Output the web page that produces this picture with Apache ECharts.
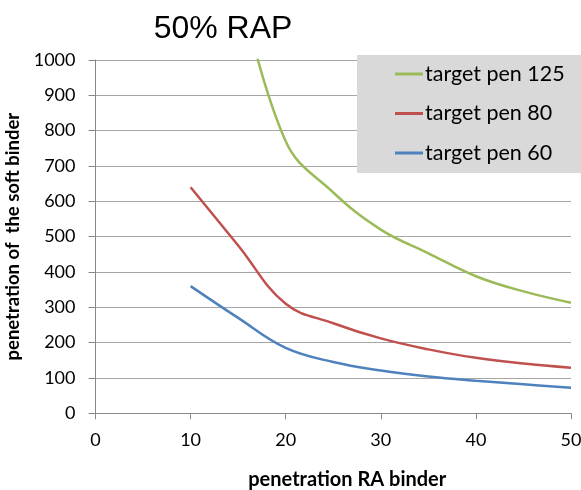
<!DOCTYPE html>
<html>
<head>
<meta charset="utf-8">
<script src="https://cdn.jsdelivr.net/npm/echarts@6/dist/echarts.min.js"></script>
<style>
  html, body { margin: 0; padding: 0; background: #fff; }
  #chart { width: 581px; height: 490px; }
</style>
</head>
<body>
<div id="chart"></div>
<script>
// Penetration of the RA binder (x) and required soft-binder penetration (y)
var penRA   = [10, 15, 20, 25, 30, 35, 40, 45, 50];
var pen125  = [null, 1230, 770, 625, 520, 453, 388, 345, 313];
var pen80   = [640, 475, 310, 255, 212, 181, 157, 141, 129];
var pen60   = [360, 270, 185, 145, 121, 104, 92, 82, 72];
var seriesNames = ['target pen 125', 'target pen 80', 'target pen 60'];
var seriesColors = ['#9bbb59', '#c0504d', '#4f81bd'];

function pairs(xs, ys) {
  var out = [];
  for (var i = 0; i < xs.length; i++) {
    if (ys[i] !== null) out.push([xs[i], ys[i]]);
  }
  return out;
}

var font = 'Lato';
var chart = echarts.init(document.getElementById('chart'), null, { renderer: 'canvas' });

var seriesData = [pen125, pen80, pen60];
var series = seriesData.map(function (ys, i) {
  return {
    name: seriesNames[i],
    type: 'line',
    data: pairs(penRA, ys),
    smooth: 0.4,
    symbol: 'none',
    showSymbol: false,
    clip: true,
    lineStyle: { color: seriesColors[i], width: 2.5 },
    itemStyle: { color: seriesColors[i] },
    z: 3 - i
  };
});

chart.setOption({
  animation: false,
  backgroundColor: '#ffffff',
  title: {
    text: '50% RAP',
    left: 218,
    textAlign: 'center',
    top: 8,
    textStyle: { fontFamily: 'Liberation Sans', fontSize: 32, fontWeight: 'normal', color: '#000' }
  },
  legend: {
    orient: 'vertical',
    left: 357,
    top: 55,
    padding: [8, 40, 9, 38],
    itemWidth: 28,
    itemHeight: 14,
    itemGap: 17.5,
    icon: 'path://M0,0 L28,0 L28,3 L0,3 Z',
    backgroundColor: '#d9d9d9',
    data: seriesNames,
    textStyle: { fontFamily: font, fontSize: 21.5, color: '#000', padding: [0, 0, 0, -3] }
  },
  grid: { left: 95.5, right: 10, top: 60, bottom: 76.7, containLabel: false, outerBoundsMode: 'none' },
  xAxis: {
    type: 'value',
    min: 0, max: 50, interval: 10,
    name: 'penetration RA binder',
    nameLocation: 'middle',
    nameGap: 56,
    nameTextStyle: { fontFamily: font, fontSize: 20, fontWeight: 'bold', color: '#000', padding: [0, 0, 0, 28] },
    axisLine: { show: true, onZero: false, lineStyle: { color: '#888', width: 1 } },
    axisTick: { show: true, length: 6, lineStyle: { color: '#888' } },
    axisLabel: { margin: 18, fontFamily: font, fontSize: 18, color: '#000' },
    splitLine: { show: false }
  },
  yAxis: {
    type: 'value',
    min: 0, max: 1000, interval: 100,
    name: 'penetration of  the soft binder',
    nameLocation: 'middle',
    nameGap: 61,
    nameTextStyle: { fontFamily: font, fontSize: 18.5, fontWeight: 'bold', color: '#000' },
    axisLine: { show: true, lineStyle: { color: '#888', width: 1 } },
    axisTick: { show: true, length: 7, lineStyle: { color: '#888' } },
    axisLabel: {
      margin: 20, fontFamily: font, fontSize: 18, color: '#000',
      formatter: function (v) { return String(v); }
    },
    splitLine: { show: true, lineStyle: { color: '#a6a6a6', width: 1 } }
  },
  series: series
});
</script>
</body>
</html>
